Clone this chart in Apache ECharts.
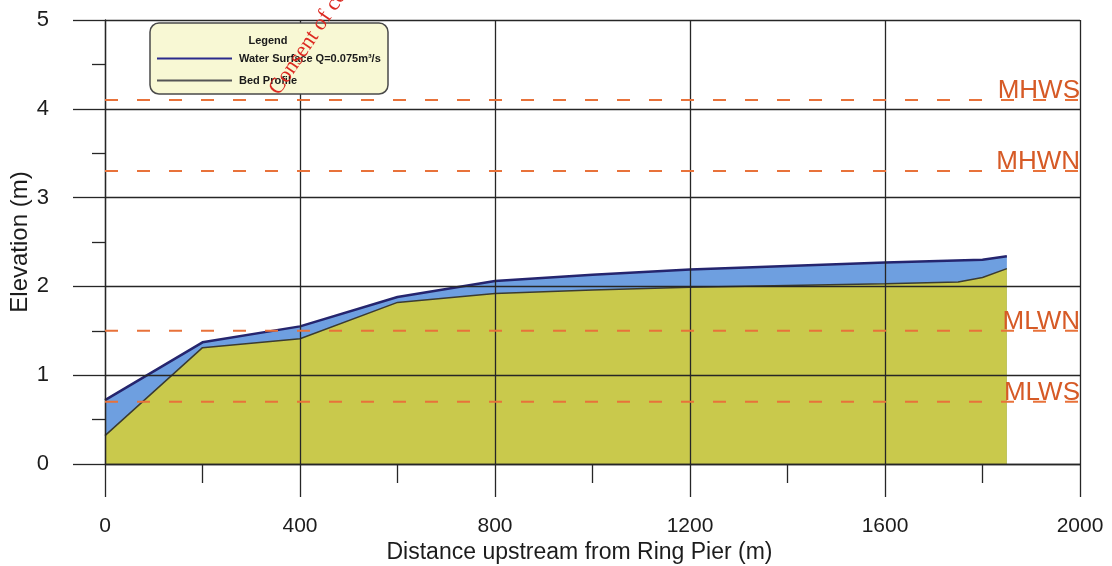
<!DOCTYPE html>
<html>
<head>
<meta charset="utf-8">
<script src="https://cdn.jsdelivr.net/npm/echarts@6/dist/echarts.min.js"></script>
<style>
  html, body { margin: 0; padding: 0; background: #ffffff; }
  #chart { width: 1112px; height: 566px; }
</style>
</head>
<body>
<div id="chart"></div>
<script>
// Longitudinal profile upstream of Ring Pier
const waterName = 'Water Surface Q=0.075m³/s';
const bedName = 'Bed Profile';

const waterDistance = [0, 200, 400, 600, 800, 1000, 1200, 1400, 1600, 1800, 1850];
const waterLevel    = [0.72, 1.37, 1.55, 1.88, 2.06, 2.13, 2.19, 2.23, 2.27, 2.30, 2.34];

const bedDistance = [0, 200, 400, 600, 800, 1000, 1200, 1400, 1600, 1750, 1800, 1850];
const bedLevel    = [0.32, 1.31, 1.41, 1.82, 1.92, 1.96, 1.99, 2.01, 2.03, 2.05, 2.10, 2.20];

// Tidal reference levels
const tideNames  = ['MHWS', 'MHWN', 'MLWN', 'MLWS'];
const tideLevels = [4.1, 3.3, 1.5, 0.7];

const xTicks = { min: 0, max: 2000, interval: 400 };
const yTicks = { min: 0, max: 5, interval: 1 };

const FONT = '"Liberation Sans", Arial, sans-serif';
const ink = '#1c1c1c';

function pairs(xs, ys) { return xs.map((x, i) => [x, ys[i]]); }

const tideSeries = tideNames.map((name, i) => ({
  name: name,
  type: 'line',
  z: 6,
  silent: true,
  showSymbol: false,
  data: [[xTicks.min, tideLevels[i]], [xTicks.max, tideLevels[i]]],
  lineStyle: { color: '#e8723a', width: 2, type: [13, 19] },
  endLabel: {
    show: true,
    formatter: '{a}',
    color: '#d65a26',
    fontFamily: FONT,
    fontSize: 26,
    align: 'right',
    verticalAlign: 'bottom',
    distance: 0,
    offset: [0, 4]
  }
}));

const chart = echarts.init(document.getElementById('chart'), null, { renderer: 'canvas' });

chart.setOption({
  animation: false,
  backgroundColor: '#ffffff',
  grid: { left: 105, right: 32, top: 20, bottom: 102, containLabel: false, outerBoundsMode: 'none' },
  xAxis: {
    type: 'value',
    min: xTicks.min, max: xTicks.max, interval: xTicks.interval,
    z: 5,
    name: 'Distance upstream from Ring Pier (m)',
    nameLocation: 'middle',
    nameGap: 77,
    nameMoveOverlap: false,
    nameTextStyle: { fontFamily: FONT, fontSize: 23, color: ink, padding: [0, 26, 0, 0] },
    axisLine: { show: true, onZero: false, lineStyle: { color: '#262626', width: 1.3 } },
    axisTick: { show: true, length: 33, lineStyle: { color: '#262626', width: 1.3 } },
    minorTick: { show: true, splitNumber: 2, length: 19, lineStyle: { color: '#262626', width: 1.3 } },
    axisLabel: { margin: 52, fontFamily: FONT, fontSize: 21, color: ink, formatter: v => String(v) },
    splitLine: { show: true, lineStyle: { color: '#262626', width: 1.3 } }
  },
  yAxis: {
    type: 'value',
    min: yTicks.min, max: yTicks.max, interval: yTicks.interval,
    z: 5,
    name: 'Elevation (m)',
    nameLocation: 'middle',
    nameGap: 73,
    nameMoveOverlap: false,
    nameTextStyle: { fontFamily: FONT, fontSize: 24, color: ink },
    axisLine: { show: true, onZero: false, lineStyle: { color: '#262626', width: 1.3 } },
    axisTick: { show: true, length: 32, lineStyle: { color: '#262626', width: 1.3 } },
    minorTick: { show: true, splitNumber: 2, length: 13, lineStyle: { color: '#262626', width: 1.3 } },
    axisLabel: { margin: 56, fontFamily: FONT, fontSize: 22, color: ink },
    splitLine: { show: true, lineStyle: { color: '#262626', width: 1.3 } }
  },
  legend: {
    show: true,
    z: 30,
    left: 157,
    top: 53,
    orient: 'vertical',
    padding: 0,
    itemGap: 11,
    itemWidth: 75,
    itemHeight: 2,
    textStyle: { fontFamily: FONT, fontSize: 11, fontWeight: 'bold', color: '#1a1a1a', padding: [0, 0, 0, 2] },
    data: [
      { name: waterName, icon: 'rect', itemStyle: { color: '#2b2b8c' } },
      { name: bedName, icon: 'rect', itemStyle: { color: '#555555' } }
    ]
  },
  graphic: [
    {
      type: 'rect', z: 20,
      shape: { x: 150, y: 23, width: 238, height: 71, r: 9 },
      style: { fill: '#f8f8d4', stroke: '#4a4a4a', lineWidth: 1.5 }
    },
    {
      type: 'text', z: 21,
      x: 268, y: 41,
      style: {
        text: 'Legend', fill: '#1a1a1a',
        font: 'bold 11px ' + FONT,
        textAlign: 'center', textVerticalAlign: 'middle'
      }
    },
    {
      type: 'text', z: 40,
      x: 283, y: 99,
      rotation: 56 * Math.PI / 180,
      style: {
        text: 'Consent of copyright owner required for any other use.',
        fill: '#dc2a22',
        font: '22px "Liberation Serif", "Times New Roman", serif',
        textAlign: 'left', textVerticalAlign: 'bottom'
      }
    }
  ],
  series: [
    {
      name: waterName,
      type: 'line',
      z: 2,
      silent: true,
      showSymbol: false,
      data: pairs(waterDistance, waterLevel),
      lineStyle: { color: '#25256e', width: 2.5 },
      itemStyle: { color: '#2b2b8c' },
      areaStyle: { color: '#6e9fe0', opacity: 1, origin: 'start' }
    },
    {
      name: bedName,
      type: 'line',
      z: 3,
      silent: true,
      showSymbol: false,
      data: pairs(bedDistance, bedLevel),
      lineStyle: { color: '#3b3b30', width: 1.5 },
      itemStyle: { color: '#555555' },
      areaStyle: { color: '#c9c94c', opacity: 1, origin: 'start' }
    }
  ].concat(tideSeries)
});
</script>
</body>
</html>
